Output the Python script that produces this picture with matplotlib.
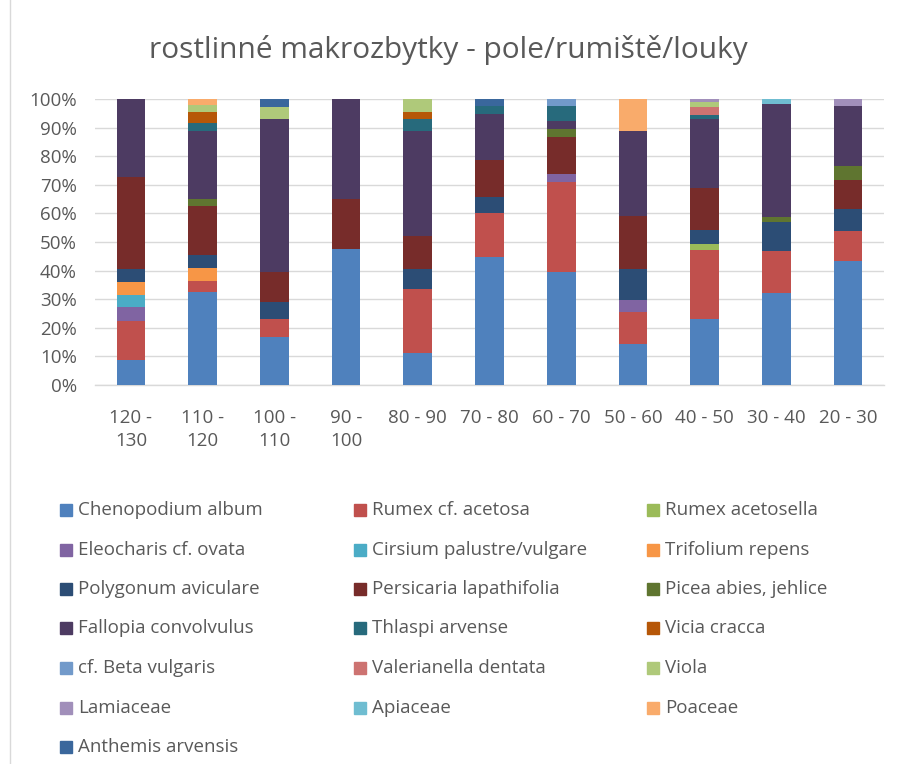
import matplotlib.pyplot as plt
import matplotlib.patches as mpatches
import numpy as np

kategorie = ["120 -\n130", "110 -\n120", "100 -\n110", "90 -\n100", "80 - 90", "70 - 80",
             "60 - 70", "50 - 60", "40 - 50", "30 - 40", "20 - 30"]

# hodnoty v %, pořadí kategorií jako výše
chenopodium_album = [8.6, 32.4, 16.8, 47.6, 11.1, 44.8, 39.4, 14.5, 23.1, 32.1, 43.4]
rumex_acetosa = [13.9, 4.1, 6.2, 0, 22.5, 15.5, 31.5, 11.1, 24.1, 14.7, 10.4]
rumex_acetosella = [0, 0, 0, 0, 0, 0, 0, 0, 2.0, 0, 0]
eleocharis_ovata = [4.7, 0, 0, 0, 0, 0, 2.9, 4.1, 0, 0, 0]
cirsium = [4.4, 0, 0, 0, 0, 0, 0, 0, 0, 0, 0]
trifolium_repens = [4.4, 4.4, 0, 0, 0, 0, 0, 0, 0, 0, 0]
polygonum_aviculare = [4.5, 4.5, 6.2, 0, 7.0, 5.4, 0, 11.0, 4.9, 10.1, 7.8]
persicaria_lapathifolia = [32.1, 17.2, 10.3, 17.6, 11.5, 13.2, 13.1, 18.4, 14.8, 0, 10.3]
picea_abies = [0, 2.4, 0, 0, 0, 0, 2.6, 0, 0, 1.7, 4.9]
fallopia_convolvulus = [27.4, 23.8, 53.6, 34.8, 36.5, 15.9, 2.8, 30.0, 24.1, 39.7, 21.0]
thlaspi_arvense = [0, 2.6, 0, 0, 4.4, 2.9, 5.5, 0, 1.3, 0, 0]
vicia_cracca = [0, 3.8, 0, 0, 2.4, 0, 0, 0, 0, 0, 0]
beta_vulgaris = [0, 0, 0, 0, 0, 0, 2.3, 0, 0, 0, 0]
valerianella_dentata = [0, 0, 0, 0, 0, 0, 0, 0, 2.8, 0, 0]
viola = [0, 2.6, 4.1, 0, 4.5, 0, 0, 0, 2.0, 0, 0]
lamiaceae = [0, 0, 0, 0, 0, 0, 0, 0, 0.9, 0, 2.3]
apiaceae = [0, 0, 0, 0, 0, 0, 0, 0, 0, 1.6, 0]
poaceae = [0, 2.1, 0, 0, 0, 0, 0, 11.1, 0, 0, 0]
anthemis_arvensis = [0, 0, 2.9, 0, 0, 2.4, 0, 0, 0, 0, 0]

nazvy = ["Chenopodium album", "Rumex cf. acetosa", "Rumex acetosella",
         "Eleocharis cf. ovata", "Cirsium palustre/vulgare", "Trifolium repens",
         "Polygonum aviculare", "Persicaria lapathifolia", "Picea abies, jehlice",
         "Fallopia convolvulus", "Thlaspi arvense", "Vicia cracca",
         "cf. Beta vulgaris", "Valerianella dentata", "Viola",
         "Lamiaceae", "Apiaceae", "Poaceae", "Anthemis arvensis"]
serie = [chenopodium_album, rumex_acetosa, rumex_acetosella, eleocharis_ovata, cirsium,
         trifolium_repens, polygonum_aviculare, persicaria_lapathifolia, picea_abies,
         fallopia_convolvulus, thlaspi_arvense, vicia_cracca, beta_vulgaris,
         valerianella_dentata, viola, lamiaceae, apiaceae, poaceae, anthemis_arvensis]
barvy = ["#4F81BD", "#C0504D", "#9BBB59", "#8064A2", "#4BACC6", "#F79646",
         "#2C4D75", "#772C2A", "#5F7530", "#4D3B62", "#276A7C", "#B65708",
         "#729ACA", "#CD7371", "#AFC97A", "#A18FBA", "#6FBDD1", "#F9AB6B", "#3A679C"]

plt.rcParams["font.family"] = ["Open Sans", "DejaVu Sans"]
seda = "#595959"

W, H = 897, 764
fig = plt.figure(figsize=(W / 100, H / 100), dpi=100)
ax = fig.add_axes([95 / W, 1 - 385 / H, (884 - 95) / W, (385 - 99) / H])

data = np.array(serie, dtype=float)
data = data / data.sum(axis=0) * 100
x = np.arange(len(kategorie))
spodek = np.zeros(len(kategorie))
for hodnoty, barva in zip(data, barvy):
    ax.bar(x, hodnoty, bottom=spodek, width=0.4, color=barva, zorder=3)
    spodek += hodnoty

ax.set_xlim(-0.5, len(kategorie) - 0.5)
ax.set_ylim(0, 100)
ax.set_yticks(np.arange(0, 101, 10))
ax.set_yticklabels([f"{v}%" for v in range(0, 101, 10)])
ax.set_xticks(x)
ax.set_xticklabels(kategorie, linespacing=1.4)
ax.grid(axis="y", color="#D9D9D9", linewidth=1, zorder=0)
for s in ["top", "right", "left"]:
    ax.spines[s].set_visible(False)
ax.spines["bottom"].set_color("#D9D9D9")
ax.spines["bottom"].set_linewidth(1)
ax.tick_params(axis="both", length=0, colors=seda, labelsize=13.5)
ax.tick_params(axis="y", pad=13)
ax.tick_params(axis="x", pad=17)

fig.text(0.5, 1 - 50 / H, "rostlinné makrozbytky - pole/rumiště/louky",
         ha="center", va="center", fontsize=21.5, color=seda)

# legenda po řádcích (jako v Excelu)
sloupce_x = [60, 354, 647]
radky_y = [510, 550, 589, 628, 668, 708, 747]
for i, (nazev, barva) in enumerate(zip(nazvy, barvy)):
    r, c = divmod(i, 3)
    px, py = sloupce_x[c], radky_y[r]
    fig.patches.append(mpatches.Rectangle((px / W, 1 - (py + 6) / H), 12 / W, 12 / H,
                                          transform=fig.transFigure, color=barva))
    fig.text((px + 18) / W, 1 - py / H, nazev, ha="left", va="center",
             fontsize=13.5, color=seda)

fig.add_artist(plt.Line2D([10 / W, 10 / W], [0, 1], color="#D9D9D9", linewidth=1,
                          transform=fig.transFigure))

fig.savefig("out.png", dpi=100)
